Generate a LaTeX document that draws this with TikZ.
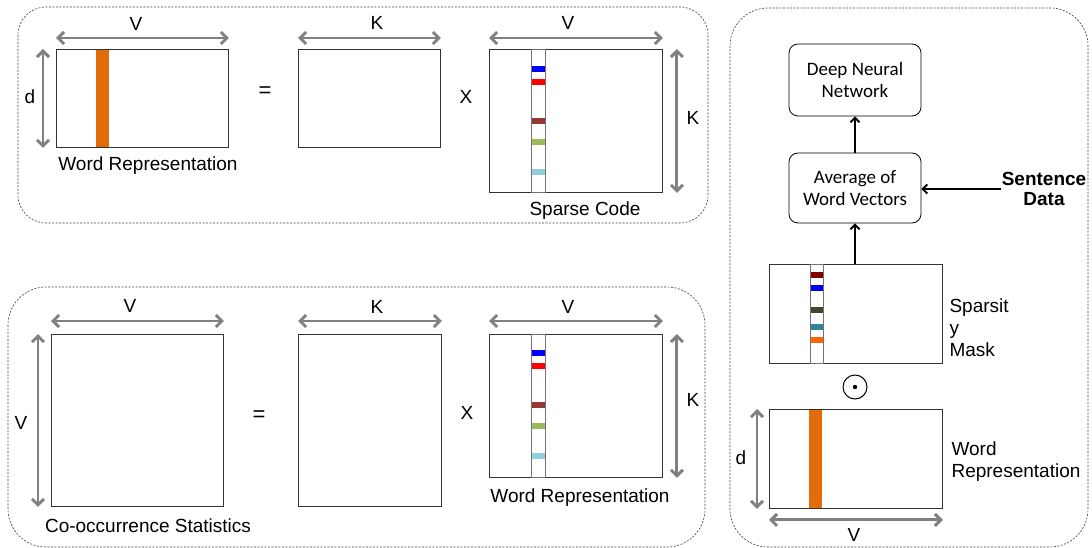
\documentclass[tikz,border=0pt]{standalone}
\usepackage{fontspec}
\setmainfont{Liberation Sans}
\newfontfamily\calibrifont{Carlito}
\usetikzlibrary{arrows.meta}

\definecolor{stripeorange}{RGB}{227,108,10}
\definecolor{codeblue}{RGB}{0,0,255}
\definecolor{codered}{RGB}{255,0,0}
\definecolor{codebrown}{RGB}{150,55,53}
\definecolor{codegreen}{RGB}{155,187,89}
\definecolor{codecyan}{RGB}{146,205,221}
\definecolor{maskmaroon}{RGB}{128,0,0}
\definecolor{maskolive}{RGB}{74,69,42}
\definecolor{maskteal}{RGB}{49,133,155}
\definecolor{maskorange}{RGB}{255,102,0}
\definecolor{dimgray}{RGB}{128,128,128}

\begin{document}
\begin{tikzpicture}[x=1pt, y=-1pt,
  every node/.style={font=\fontsize{19}{22}\selectfont},
  panel/.style={draw=black!75, dash pattern=on 2pt off 1.5pt, line width=0.6pt},
  mat/.style={draw=black!80, line width=0.9pt, inner sep=0pt, anchor=north west},
  codecol/.style={draw=black!55, line width=1pt, inner sep=0pt, anchor=north west},
  dimarrow/.style={{Straight Barb[length=6pt,width=12pt]}-{Straight Barb[length=6pt,width=12pt]},
    dimgray, line width=2.9pt},
  flowbox/.style={draw, rounded corners=9pt, line width=0.8pt, align=center,
    minimum width=132pt, minimum height=72pt, font=\calibrifont\fontsize{19}{22}\selectfont},
  flowarrow/.style={-{Straight Barb[length=4.5pt,width=9pt]}, line width=2pt}]
  \useasboundingbox (0,0) rectangle (1092,548);

  % Panels
  \draw[panel, rounded corners=28pt] (18,7) rectangle (708,223);
  \draw[panel, rounded corners=38pt] (8,287) rectangle (705,547);
  \draw[panel, rounded corners=38pt] (730,8) rectangle (1088,547);

  % ---- Top panel: word representation = dictionary x sparse code
  \fill[stripeorange] (96,49.4) rectangle (109,146.6);
  \node[mat, minimum width=172pt, minimum height=98pt] (wrtop) at (56,49) {};
  \draw[dimarrow] ([yshift=11pt]wrtop.north west) -- ([yshift=11pt]wrtop.north east);
  \draw[dimarrow] ([xshift=-13pt]wrtop.north west) -- ([xshift=-13pt]wrtop.south west);
  \node (wrtopV) at (136,24) {V};
  \node (wrtopd) at (30,97) {d};
  \node (wrtoplbl) at (148,166) {Word Representation};
  \node[font=\fontsize{22}{22}\selectfont] (eqtop) at (265,92) {=};

  \node[mat, minimum width=142pt, minimum height=98pt] (dicttop) at (298,49) {};
  \draw[dimarrow] ([yshift=11pt]dicttop.north west) -- ([yshift=11pt]dicttop.north east);
  \node (dicttopK) at (377,23) {K};
  \node (xtop) at (466,97) {X};

  \node[mat, minimum width=173pt, minimum height=143pt] (sparse) at (489,49) {};
  \node[codecol, minimum width=14pt, minimum height=143pt] (sparsecol) at (531,49) {};
  \foreach \ys/\col in {66/codeblue, 79/codered, 118/codebrown, 139/codegreen, 169/codecyan}
    \fill[\col] (531.5,\ys) rectangle (544.5,\ys+6);
  \draw[dimarrow] ([yshift=11pt]sparse.north west) -- ([yshift=11pt]sparse.north east);
  \draw[dimarrow] ([xshift=14pt]sparse.north east) -- ([xshift=14pt]sparse.south east);
  \node (sparseV) at (568,23) {V};
  \node (sparseK) at (693,118) {K};
  \node (sparselbl) at (585,211) {Sparse Code};

  % ---- Bottom panel: co-occurrence statistics = K x word representation
  \node[mat, minimum width=172pt, minimum height=172pt] (cooc) at (51,334) {};
  \draw[dimarrow] ([yshift=13pt]cooc.north west) -- ([yshift=13pt]cooc.north east);
  \draw[dimarrow] ([xshift=-13pt]cooc.north west) -- ([xshift=-13pt]cooc.south west);
  \node (coocV) at (130,306) {V};
  \node (coocVside) at (21,423) {V};
  \node (cooclbl) at (148,526) {Co-occurrence Statistics};
  \node[font=\fontsize{22}{22}\selectfont] (eqbot) at (259,416) {=};

  \node[mat, minimum width=143pt, minimum height=172pt] (dictbot) at (298,334) {};
  \draw[dimarrow] ([yshift=13pt]dictbot.north west) -- ([yshift=13pt]dictbot.north east);
  \node (dictbotK) at (377,307) {K};
  \node (xbot) at (467,413) {X};

  \node[mat, minimum width=173pt, minimum height=143pt] (wrbot) at (489,334) {};
  \node[codecol, minimum width=14pt, minimum height=143pt] (wrbotcol) at (531,334) {};
  \foreach \ys/\col in {66/codeblue, 79/codered, 118/codebrown, 139/codegreen, 169/codecyan}
    \fill[\col] (531.5,\ys+284) rectangle (544.5,\ys+290);
  \draw[dimarrow] ([yshift=13pt]wrbot.north west) -- ([yshift=13pt]wrbot.north east);
  \draw[dimarrow] ([xshift=14pt]wrbot.north east) -- ([xshift=14pt]wrbot.south east);
  \node (wrbotV) at (568,307) {V};
  \node (wrbotK) at (693,400) {K};
  \node (wrbotlbl) at (580,498) {Word Representation};

  % ---- Right panel: masked representation into the network
  \node[flowbox] (dnn) at (855,80) {Deep Neural\\Network};
  \node[flowbox, minimum height=70pt] (avg) at (855,188) {Average of\\Word Vectors};
  \node[font=\bfseries\fontsize{19}{20}\selectfont, align=center, inner sep=1pt] (sentence)
    at (1044,189) {Sentence\\Data};

  \node[mat, minimum width=173pt, minimum height=99pt] (mask) at (769,264) {};
  \node[codecol, minimum width=13pt, minimum height=99pt] (maskcol) at (810,264) {};
  \foreach \ys/\col in {272/maskmaroon, 285/codeblue, 307/maskolive, 324/maskteal, 337/maskorange}
    \fill[\col] (810.5,\ys) rectangle (822.5,\ys+6);
  \node[align=left, anchor=west] (masklbl) at (946,328) {Sparsit\\y\\Mask};

  \node[circle, draw, line width=1pt, minimum size=24pt, inner sep=0pt] (odot) at (855,387) {};
  \fill (odot) circle (2.2pt);

  \fill[stripeorange] (809,409.4) rectangle (822,507.6);
  \node[mat, minimum width=173pt, minimum height=99pt] (wrmask) at (769,409) {};
  \draw[dimarrow] ([xshift=-12pt]wrmask.north west) -- ([xshift=-12pt]wrmask.south west);
  \draw[dimarrow] ([yshift=-11pt]wrmask.south west) -- ([yshift=-11pt]wrmask.south east);
  \node (wrmaskd) at (741,458) {d};
  \node (wrmaskV) at (854,535) {V};
  \node[align=left, anchor=west] (wrmasklbl) at (948,462) {Word\\Representation};

  \draw[flowarrow] (mask.north -| avg.south) -- (avg.south);
  \draw[flowarrow] (avg.north) -- (dnn.south);
  \draw[flowarrow] (sentence.west) -- (sentence.west -| avg.east);
\end{tikzpicture}
\end{document}
